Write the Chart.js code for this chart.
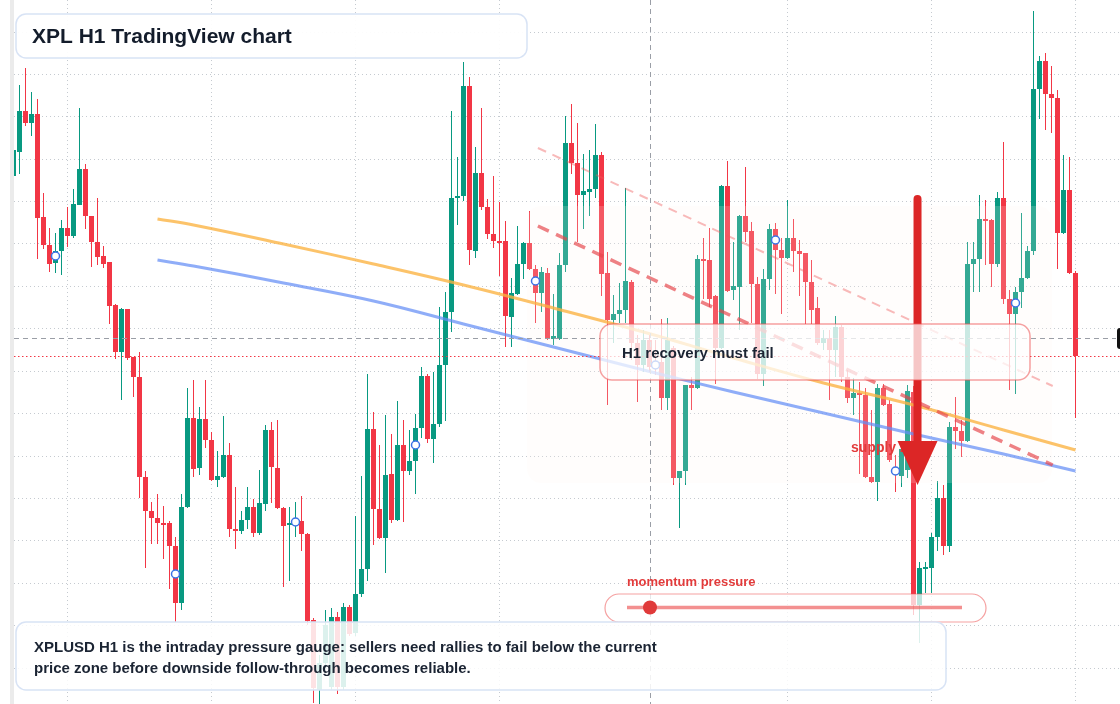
<!DOCTYPE html>
<html>
<head>
<meta charset="utf-8">
<title>XPL H1 TradingView chart</title>
<script src="https://cdn.jsdelivr.net/npm/chart.js@4.4.1/dist/chart.umd.min.js"></script>
<style>
  html, body { margin: 0; padding: 0; background: #ffffff; }
  #wrap { width: 1120px; height: 704px; position: relative; }
</style>
</head>
<body>
<div id="wrap"><canvas id="xplChart" width="1120" height="704"></canvas></div>
<script>
// ================================
// XPLUSD H1 candles
// ================================

const opens = [
  0.624,0.648,0.689,0.677,0.686,0.583,0.555,0.537,0.549,0.572,
  0.564,0.595,0.631,0.584,0.558,0.544,0.538,0.495,0.448,0.491,
  0.443,0.423,0.323,0.289,0.282,0.277,0.277,0.254,0.197,0.293,
  0.382,0.332,0.381,0.360,0.320,0.323,0.345,0.271,0.269,0.280,
  0.293,0.267,0.296,0.370,0.332,0.292,0.275,0.276,0.279,0.266,
  0.180,0.110,0.137,0.113,0.183,0.113,0.193,0.167,0.206,0.231,
  0.371,0.291,0.262,0.326,0.280,0.355,0.329,0.339,0.372,0.424,
  0.361,0.376,0.435,0.488,0.602,0.604,0.714,0.549,0.627,0.593,
  0.566,0.559,0.559,0.483,0.506,0.536,0.557,0.531,0.507,0.527,
  0.461,0.461,0.535,0.657,0.637,0.605,0.608,0.611,0.645,0.527,
  0.480,0.486,0.490,0.518,0.457,0.435,0.460,0.438,0.438,0.402,
  0.452,0.322,0.329,0.415,0.412,0.541,0.540,0.504,0.452,0.614,
  0.510,0.513,0.584,0.569,0.516,0.426,0.521,0.571,0.550,0.542,
  0.562,0.549,0.547,0.518,0.492,0.457,0.462,0.450,0.473,0.423,
  0.402,0.407,0.405,0.323,0.318,0.412,0.396,0.333,0.324,0.330,
  0.408,0.195,0.231,0.232,0.263,0.302,0.254,0.373,0.369,0.359,
  0.536,0.541,0.581,0.580,0.536,0.602,0.501,0.486,0.508,0.522,
  0.549,0.711,0.739,0.706,0.702,0.567,0.610,0.527
];

const highs = [
  0.652,0.715,0.732,0.708,0.701,0.607,0.572,0.567,0.580,0.593,
  0.611,0.692,0.636,0.584,0.602,0.554,0.538,0.496,0.492,0.491,
  0.443,0.448,0.329,0.298,0.306,0.294,0.279,0.263,0.306,0.412,
  0.420,0.393,0.420,0.368,0.349,0.384,0.357,0.313,0.289,0.313,
  0.301,0.330,0.375,0.378,0.380,0.293,0.293,0.298,0.304,0.267,
  0.182,0.145,0.190,0.192,0.188,0.197,0.195,0.284,0.324,0.426,
  0.388,0.355,0.385,0.366,0.399,0.380,0.370,0.386,0.433,0.426,
  0.428,0.493,0.508,0.689,0.643,0.738,0.723,0.653,0.692,0.601,
  0.624,0.598,0.579,0.522,0.574,0.558,0.589,0.535,0.533,0.532,
  0.506,0.547,0.684,0.696,0.677,0.646,0.650,0.676,0.648,0.548,
  0.505,0.517,0.612,0.520,0.465,0.470,0.465,0.460,0.481,0.482,
  0.454,0.329,0.415,0.423,0.545,0.562,0.572,0.505,0.615,0.639,
  0.558,0.585,0.633,0.578,0.523,0.531,0.576,0.577,0.562,0.600,
  0.581,0.560,0.547,0.540,0.503,0.470,0.470,0.484,0.475,0.430,
  0.422,0.418,0.412,0.390,0.416,0.416,0.400,0.345,0.358,0.415,
  0.414,0.238,0.238,0.267,0.319,0.315,0.378,0.403,0.380,0.558,
  0.558,0.605,0.600,0.581,0.608,0.658,0.510,0.513,0.587,0.554,
  0.789,0.744,0.747,0.734,0.710,0.645,0.643,0.529
];

const lows = [
  0.622,0.626,0.674,0.664,0.541,0.551,0.528,0.527,0.525,0.553,
  0.562,0.595,0.571,0.533,0.535,0.532,0.476,0.441,0.400,0.440,
  0.403,0.302,0.232,0.256,0.256,0.241,0.211,0.178,0.190,0.292,
  0.323,0.325,0.352,0.319,0.313,0.322,0.263,0.251,0.266,0.271,
  0.263,0.265,0.289,0.297,0.291,0.213,0.219,0.263,0.249,0.175,
  0.097,0.092,0.132,0.110,0.106,0.110,0.164,0.164,0.203,0.219,
  0.255,0.261,0.227,0.277,0.279,0.278,0.325,0.306,0.362,0.357,
  0.337,0.373,0.379,0.468,0.575,0.599,0.535,0.542,0.590,0.561,
  0.552,0.524,0.453,0.453,0.505,0.521,0.530,0.477,0.488,0.460,
  0.455,0.460,0.528,0.626,0.558,0.571,0.584,0.602,0.504,0.395,
  0.457,0.477,0.477,0.440,0.398,0.428,0.428,0.425,0.390,0.390,
  0.315,0.272,0.315,0.390,0.411,0.501,0.493,0.416,0.451,0.508,
  0.500,0.470,0.558,0.477,0.421,0.414,0.510,0.506,0.486,0.541,
  0.528,0.504,0.476,0.476,0.455,0.450,0.400,0.423,0.418,0.397,
  0.385,0.326,0.322,0.317,0.299,0.394,0.338,0.308,0.313,0.322,
  0.185,0.157,0.207,0.207,0.249,0.245,0.248,0.351,0.343,0.358,
  0.508,0.508,0.535,0.513,0.533,0.496,0.410,0.406,0.492,0.521,
  0.545,0.681,0.670,0.667,0.531,0.566,0.526,0.382
];

const closes = [
  0.650,0.689,0.677,0.686,0.582,0.555,0.536,0.549,0.572,0.564,
  0.596,0.631,0.584,0.558,0.543,0.536,0.494,0.448,0.491,0.442,
  0.423,0.323,0.289,0.282,0.277,0.275,0.254,0.197,0.293,0.382,
  0.331,0.381,0.360,0.320,0.324,0.345,0.271,0.269,0.280,0.293,
  0.267,0.297,0.370,0.333,0.292,0.274,0.277,0.279,0.266,0.179,
  0.112,0.137,0.175,0.183,0.113,0.193,0.166,0.206,0.231,0.371,
  0.291,0.262,0.325,0.280,0.355,0.329,0.339,0.372,0.424,0.361,
  0.376,0.435,0.488,0.602,0.604,0.714,0.550,0.627,0.593,0.566,
  0.559,0.557,0.484,0.507,0.536,0.557,0.531,0.507,0.528,0.461,
  0.464,0.535,0.657,0.637,0.605,0.609,0.611,0.645,0.526,0.480,
  0.486,0.490,0.519,0.457,0.435,0.460,0.433,0.432,0.402,0.460,
  0.322,0.329,0.415,0.412,0.541,0.539,0.501,0.452,0.614,0.509,
  0.514,0.584,0.568,0.516,0.426,0.521,0.571,0.550,0.542,0.562,
  0.549,0.546,0.518,0.490,0.457,0.462,0.450,0.473,0.423,0.402,
  0.407,0.405,0.323,0.318,0.412,0.395,0.340,0.325,0.351,0.409,
  0.195,0.232,0.233,0.263,0.302,0.254,0.373,0.369,0.359,0.536,
  0.541,0.581,0.579,0.536,0.602,0.501,0.486,0.508,0.522,0.549,
  0.711,0.739,0.706,0.702,0.567,0.610,0.527,0.444
];

// moving averages, sampled at a few candles
const maIdx  = [24, 30, 45, 60, 75, 90, 105, 120, 135, 150, 165, 177];
const maFast = [0.581,0.575,0.556,0.536,0.515,0.492,0.468,0.442,0.417,0.395,0.370,0.350];
const maSlow = [0.540,0.534,0.517,0.499,0.476,0.453,0.430,0.408,0.387,0.366,0.346,0.329];

// session markers (blue rings)
const markerIdx    = [7, 27, 47, 67, 87, 107, 127, 147, 167];
const markerPrices = [0.544,0.226,0.278,0.355,0.519,0.435,0.560,0.329,0.497];

// descending channel (two dashed lines)
const channelIdx   = [87.4, 173.2];
const channelUpper = [0.652, 0.414];
const channelLower = [0.574, 0.335];

// supply zone + arrow + crosshair
const zoneIdx    = [85.6, 173.1];
const zonePrices = [0.594, 0.317];
const arrowIdx   = 150.67;
const arrowPrices = [0.601, 0.359, 0.315]; // shaft top, head base, tip
const crossIdx   = 106;
const crossPrice = 0.462;

// grid
const gridPrices = [0.768,0.7256,0.6832,0.6408,0.5984,0.556,0.5136,0.4712,
                    0.4288,0.3864,0.344,0.3016,0.2592,0.2168,0.1744,0.132];
const dayIdx = [9, 33, 57, 81, 129, 153, 177];

const UP = "#089981";
const DOWN = "#f23645";
const candleColors = closes.map((c, i) => (c >= opens[i] ? UP : DOWN));

// ================================
// helpers
// ================================
function roundedBox(ctx, x, y, w, h, r) {
  ctx.beginPath();
  ctx.moveTo(x + r, y);
  ctx.arcTo(x + w, y, x + w, y + h, r);
  ctx.arcTo(x + w, y + h, x, y + h, r);
  ctx.arcTo(x, y + h, x, y, r);
  ctx.arcTo(x, y, x + w, y, r);
  ctx.closePath();
}

function panel(ctx, x, y, w, h, r, fill, stroke, lw) {
  roundedBox(ctx, x, y, w, h, r);
  ctx.fillStyle = fill;
  ctx.fill();
  ctx.lineWidth = lw;
  ctx.strokeStyle = stroke;
  ctx.stroke();
}

const FONT = '"Liberation Sans", Arial, Helvetica, sans-serif';

const overlays = {
  id: "overlays",
  // faint zone wash right after candle bodies
  afterDatasetDraw(chart, args) {
    if (args.index !== 1) return;
    const { ctx, scales: { x, y } } = chart;
    const x0 = x.getPixelForValue(zoneIdx[0]);
    const x1 = x.getPixelForValue(zoneIdx[1]);
    const y0 = y.getPixelForValue(zonePrices[0]);
    const y1 = y.getPixelForValue(zonePrices[1]);
    ctx.save();
    roundedBox(ctx, x0, y0, x1 - x0, y1 - y0, 14);
    ctx.fillStyle = "rgba(255,246,240,0.18)";
    ctx.fill();
    ctx.restore();
  },
  afterDatasetsDraw(chart) {
    const { ctx, chartArea: a, scales: { x, y } } = chart;
    ctx.save();

    // crosshair
    const cx = Math.round(x.getPixelForValue(crossIdx)) + 0.5;
    const cy = Math.round(y.getPixelForValue(crossPrice)) + 0.5;
    ctx.lineWidth = 1;
    ctx.strokeStyle = "#9a9ea6";
    ctx.setLineDash([5, 4]);
    ctx.beginPath();
    ctx.moveTo(cx, 0); ctx.lineTo(cx, 704);
    ctx.moveTo(a.left, cy); ctx.lineTo(1116, cy);
    ctx.stroke();

    // last price line
    const ly = Math.round(y.getPixelForValue(closes[closes.length - 1])) + 0.5;
    ctx.strokeStyle = DOWN;
    ctx.setLineDash([1.5, 2.5]);
    ctx.beginPath();
    ctx.moveTo(a.left, ly); ctx.lineTo(a.right, ly);
    ctx.stroke();
    ctx.setLineDash([]);

    // crosshair price tag (cut at the edge)
    roundedBox(ctx, 1117, cy - 10.5, 40, 21, 3);
    ctx.fillStyle = "#111111";
    ctx.fill();

    // supply label
    ctx.font = "bold 14px " + FONT;
    ctx.textBaseline = "middle";
    ctx.fillStyle = "#e23b3b";
    ctx.fillText("supply zone", 851, 448);

    // arrow
    const ax = x.getPixelForValue(arrowIdx);
    const aTop = y.getPixelForValue(arrowPrices[0]);
    const aBase = y.getPixelForValue(arrowPrices[1]);
    const aTip = y.getPixelForValue(arrowPrices[2]);
    ctx.strokeStyle = "#dc2626";
    ctx.fillStyle = "#dc2626";
    ctx.lineWidth = 8;
    ctx.lineCap = "round";
    ctx.beginPath();
    ctx.moveTo(ax, aTop); ctx.lineTo(ax, aBase + 4);
    ctx.stroke();
    ctx.beginPath();
    ctx.moveTo(ax - 20, aBase); ctx.lineTo(ax + 20, aBase); ctx.lineTo(ax, aTip);
    ctx.closePath();
    ctx.fill();
    ctx.lineCap = "butt";

    // H1 box
    panel(ctx, 600, 324, 430, 56, 12, "rgba(255,255,255,0.74)", "rgba(236,84,84,0.55)", 1.5);
    ctx.font = "bold 15px " + FONT;
    ctx.fillStyle = "#1b2433";
    ctx.fillText("H1 recovery must fail", 622, 354);

    // momentum gauge
    ctx.font = "bold 13px " + FONT;
    ctx.fillStyle = "#e23b3b";
    ctx.fillText("momentum pressure", 627, 582);
    panel(ctx, 605, 594, 381, 28, 14, "rgba(255,255,255,0.75)", "rgba(236,84,84,0.55)", 1.2);
    ctx.strokeStyle = "rgba(236,84,84,0.65)";
    ctx.lineWidth = 3.5;
    ctx.beginPath();
    ctx.moveTo(627, 607.5); ctx.lineTo(962, 607.5);
    ctx.stroke();
    ctx.beginPath();
    ctx.arc(650, 607.5, 7, 0, Math.PI * 2);
    ctx.fillStyle = "#e03a3a";
    ctx.fill();

    // bottom note
    panel(ctx, 16, 622, 930, 68, 10, "rgba(255,255,255,0.86)", "#d8e3f5", 1.5);
    ctx.font = "bold 15px " + FONT;
    ctx.fillStyle = "#1b2433";
    ctx.fillText("XPLUSD H1 is the intraday pressure gauge: sellers need rallies to fail below the current", 34, 648);
    ctx.fillText("price zone before downside follow-through becomes reliable.", 34, 669);

    // title
    panel(ctx, 16, 14, 511, 44, 10, "rgba(255,255,255,0.96)", "#d8e3f5", 1.5);
    ctx.font = "bold 21px " + FONT;
    ctx.fillStyle = "#131c2b";
    ctx.textBaseline = "alphabetic";
    ctx.fillText("XPL H1 TradingView chart", 32, 43);

    // left edge strip
    ctx.fillStyle = "#ebebeb";
    ctx.fillRect(10, 0, 4, 704);

    ctx.restore();
  }
};

// ================================
// chart
// ================================
const ctx = document.getElementById("xplChart").getContext("2d");

new Chart(ctx, {
  type: "bar",
  data: {
    datasets: [
      {
        label: "wicks",
        data: closes.map((c, i) => ({ x: i, y: [lows[i], highs[i]] })),
        backgroundColor: candleColors,
        barThickness: 1,
        grouped: false,
        inflateAmount: 0,
        order: 10
      },
      {
        label: "bodies",
        data: closes.map((c, i) => ({ x: i, y: [opens[i], c] })),
        backgroundColor: candleColors,
        barThickness: 5,
        minBarLength: 1,
        grouped: false,
        inflateAmount: 0,
        order: 9
      },
      {
        type: "line",
        label: "MA fast",
        data: maIdx.map((v, k) => ({ x: v, y: maFast[k] })),
        borderColor: "rgba(251,178,64,0.78)",
        borderWidth: 3,
        pointRadius: 0,
        tension: 0.4,
        order: 5
      },
      {
        type: "line",
        label: "MA slow",
        data: maIdx.map((v, k) => ({ x: v, y: maSlow[k] })),
        borderColor: "rgba(100,142,245,0.72)",
        borderWidth: 3,
        pointRadius: 0,
        tension: 0.4,
        order: 4
      },
      {
        type: "line",
        label: "channel top",
        data: channelIdx.map((v, k) => ({ x: v, y: channelUpper[k] })),
        borderColor: "rgba(239,90,90,0.42)",
        borderWidth: 2,
        borderDash: [9, 7],
        pointRadius: 0,
        order: 3
      },
      {
        type: "line",
        label: "channel bottom",
        data: channelIdx.map((v, k) => ({ x: v, y: channelLower[k] })),
        borderColor: "rgba(230,70,75,0.68)",
        borderWidth: 3.5,
        borderDash: [12, 8],
        pointRadius: 0,
        order: 2
      },
      {
        type: "line",
        label: "markers",
        data: markerIdx.map((v, k) => ({ x: v, y: markerPrices[k] })),
        showLine: false,
        pointRadius: 4,
        pointBorderWidth: 1.5,
        pointBorderColor: "#3b72e6",
        pointBackgroundColor: "#ffffff",
        order: 1
      }
    ]
  },
  options: {
    responsive: false,
    animation: false,
    events: [],
    layout: { autoPadding: false, padding: { left: 14, right: 0, top: 0, bottom: 0 } },
    plugins: {
      legend: { display: false },
      tooltip: { enabled: false }
    },
    scales: {
      x: {
        type: "linear",
        min: 1 / 12,
        max: 1 / 12 + 1106 / 6,
        offset: false,
        afterBuildTicks: (axis) => { axis.ticks = dayIdx.map(v => ({ value: v })); },
        ticks: { display: false },
        grid: { color: "rgba(150,158,170,0.55)", drawTicks: false, offset: false },
        border: { display: false, dash: [1, 3] }
      },
      y: {
        type: "linear",
        min: 0.096,
        max: 0.8,
        afterBuildTicks: (axis) => { axis.ticks = gridPrices.map(v => ({ value: v })); },
        ticks: { display: false },
        grid: { color: "rgba(150,158,170,0.55)", drawTicks: false },
        border: { display: false, dash: [1, 3] }
      }
    }
  },
  plugins: [overlays]
});
</script>
</body>
</html>
